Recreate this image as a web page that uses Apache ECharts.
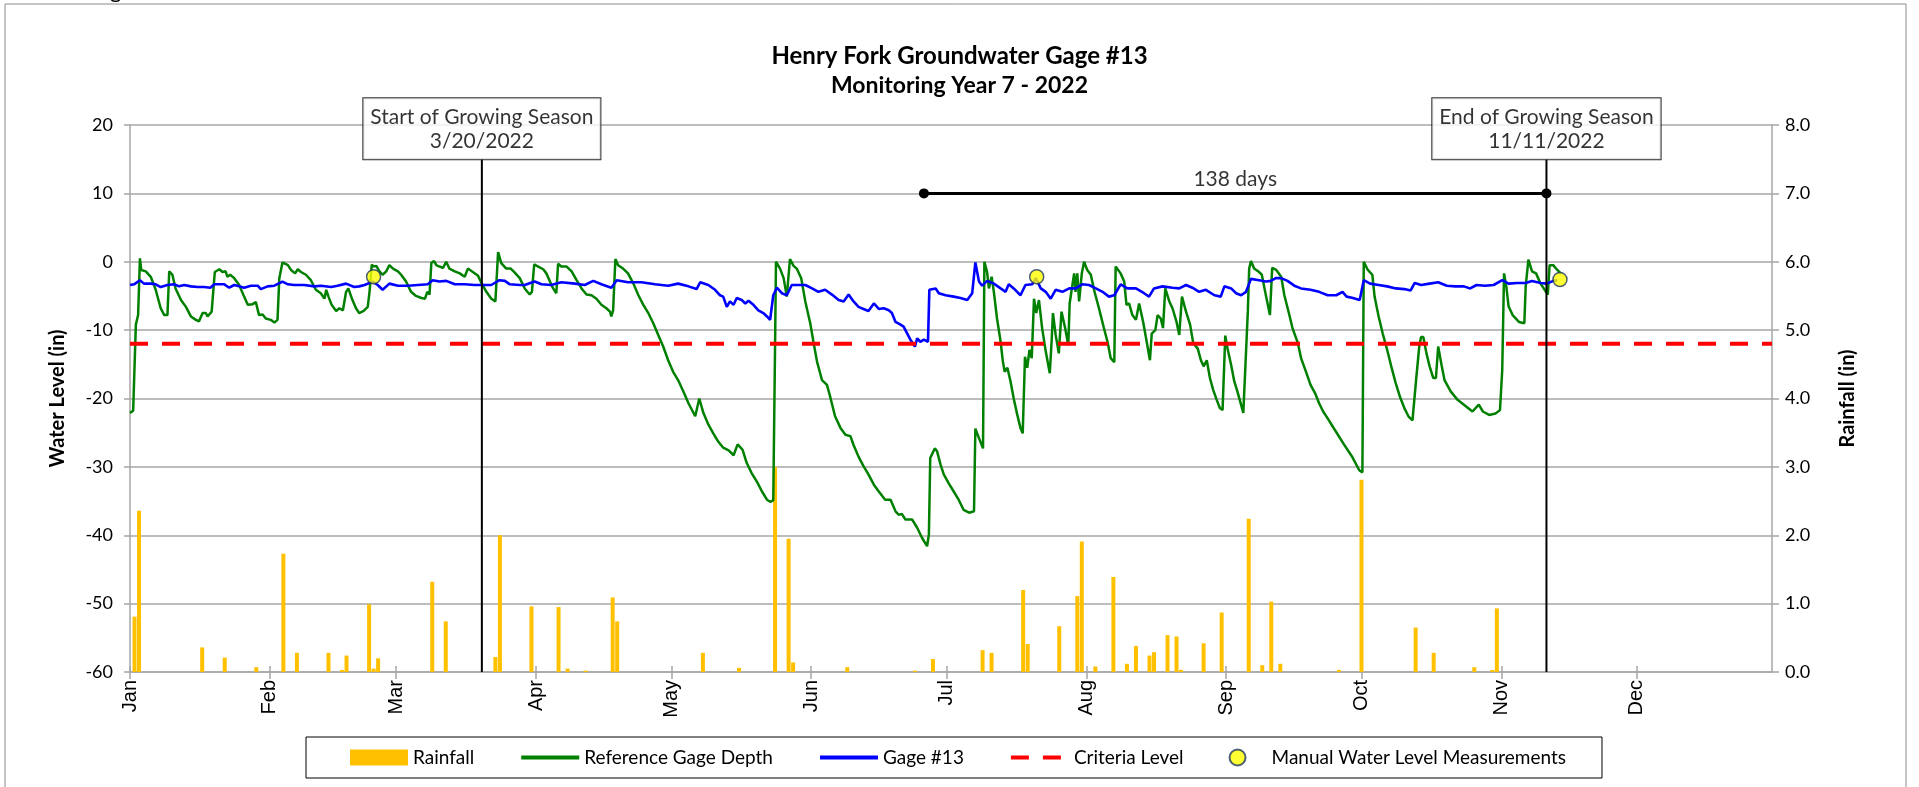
<!DOCTYPE html>
<html>
<head>
<meta charset="utf-8">
<title>Henry Fork Groundwater Gage #13</title>
<script src="https://cdn.jsdelivr.net/npm/echarts@6/dist/echarts.min.js"></script>
<style>
  html, body { margin: 0; padding: 0; background: #ffffff; }
  #chart { width: 1919px; height: 787px; }
</style>
</head>
<body>
<div id="chart"></div>
<script>
// ---- Axis labels ---------------------------------------------------------
// x is day of year 2022 (0 = Jan 1)
const monthLabels = ['Jan', 'Feb', 'Mar', 'Apr', 'May', 'Jun', 'Jul', 'Aug', 'Sep', 'Oct', 'Nov', 'Dec'];
const monthStartDay = [0, 31, 59, 90, 120, 151, 181, 212, 243, 273, 304, 334];

// ---- Daily rainfall (in) ---------------------------------------------------
const rainDay = [1, 2, 16, 21, 28, 34, 37, 44, 47, 48, 53, 54, 55, 67, 70, 81, 82, 89, 95, 97,
  101, 107, 108, 127, 135, 143, 146, 147, 159, 174, 178, 189, 191, 198, 199, 206, 210, 211, 214, 218,
  221, 223, 226, 227, 230, 232, 233, 238, 242, 248, 251, 253, 255, 268, 273, 285, 289, 298, 302, 303];
const rainInches = [0.81, 2.36, 0.36, 0.21, 0.07, 1.73, 0.28, 0.28, 0.03, 0.24, 0.99, 0.05, 0.20, 1.32, 0.74, 0.22, 2.00, 0.96, 0.95, 0.05,
  0.02, 1.09, 0.74, 0.28, 0.06, 3.00, 1.95, 0.14, 0.07, 0.02, 0.19, 0.32, 0.28, 1.20, 0.41, 0.67, 1.11, 1.91, 0.08, 1.39,
  0.12, 0.38, 0.24, 0.29, 0.54, 0.52, 0.03, 0.42, 0.87, 2.24, 0.10, 1.03, 0.12, 0.03, 2.81, 0.65, 0.28, 0.07, 0.03, 0.93];

// ---- Reference gage depth (in): [day, level] ---------------------------------
const refGageDepth = [
  [0.0,-22.1],[0.7,-21.8],[1.3,-9.2],[1.8,-7.8],[2.2,0.5],[2.5,-1.2],[3.5,-1.4],[4.6,-2.2],[5.7,-4.1],[6.8,-6.8],
  [7.6,-7.8],[8.3,-7.8],[8.7,-1.4],[9.4,-1.9],[10.1,-3.9],[11.3,-5.6],[12.4,-6.6],[13.5,-8.0],[14.6,-8.5],[15.3,-8.7],
  [16.1,-7.5],[16.8,-7.5],[17.2,-8.0],[18.1,-7.3],[18.5,-7.3],[18.8,-1.5],[19.8,-1.1],[20.5,-1.5],[21.2,-1.4],[21.6,-2.2],
  [22.2,-1.9],[23.1,-2.4],[24.2,-3.4],[25.3,-5.1],[26.1,-6.3],[27.2,-6.2],[27.9,-5.9],[28.6,-7.8],[29.4,-7.7],[30.1,-8.3],
  [31.2,-8.5],[32.0,-8.9],[32.7,-8.5],[33.1,-2.4],[33.8,-0.1],[35.0,-0.5],[35.7,-1.2],[36.6,-1.7],[37.2,-1.1],[37.9,-1.5],
  [39.0,-1.9],[40.1,-2.7],[41.2,-4.1],[42.3,-4.6],[43.1,-5.4],[43.5,-4.1],[44.0,-5.1],[44.7,-6.3],[45.7,-7.2],[46.4,-6.8],
  [47.2,-7.1],[47.9,-4.4],[48.4,-3.9],[49.2,-5.4],[50.1,-6.8],[50.8,-7.5],[51.8,-7.2],[52.7,-6.6],[53.1,-4.4],[53.6,-0.4],
  [54.0,-0.7],[54.6,-0.6],[55.3,-1.4],[56.0,-1.9],[56.8,-1.4],[57.5,-0.5],[58.3,-1.0],[59.4,-1.4],[60.1,-1.9],[61.2,-2.9],
  [62.3,-4.4],[63.4,-5.0],[64.6,-5.3],[65.4,-5.4],[65.9,-4.4],[66.4,-4.8],[66.8,-0.2],[67.4,0.1],[67.9,-0.5],[68.6,-0.7],
  [69.4,-0.9],[70.1,0.0],[70.8,-1.0],[72.0,-1.4],[73.1,-1.7],[74.2,-2.2],[74.9,-1.0],[76.0,-1.5],[77.1,-2.0],[78.0,-3.2],
  [79.0,-4.4],[80.1,-5.4],[81.0,-5.8],[81.2,-3.4],[81.6,1.4],[82.3,-0.2],[83.4,-1.0],[84.4,-1.0],[85.3,-1.6],[86.4,-2.4],
  [87.5,-3.9],[88.6,-4.8],[89.1,-4.4],[89.6,-0.4],[90.5,-0.7],[91.6,-1.1],[92.3,-1.7],[93.1,-2.9],[93.8,-3.9],[94.5,-4.6],
  [94.9,-0.3],[95.6,-0.7],[96.8,-0.7],[97.9,-1.4],[99.0,-2.7],[100.1,-3.9],[101.2,-4.8],[102.3,-4.9],[103.4,-5.4],[104.5,-6.3],
  [105.6,-6.8],[106.4,-7.3],[106.7,-8.0],[107.1,-7.1],[107.6,0.4],[108.2,-0.5],[109.3,-1.0],[110.4,-1.7],[111.6,-3.2],[112.7,-4.9],
  [113.8,-6.3],[114.9,-7.5],[116.0,-9.0],[117.1,-10.7],[118.2,-12.4],[119.3,-14.4],[120.4,-16.1],[121.5,-17.3],[122.7,-19.0],[123.8,-20.7],
  [125.3,-22.6],[126.2,-20.0],[127.1,-22.1],[128.2,-23.8],[129.3,-25.1],[130.4,-26.3],[131.5,-27.2],[132.7,-27.6],[133.8,-28.3],[134.7,-26.7],
  [135.8,-27.5],[136.7,-29.4],[137.8,-30.9],[139.0,-32.2],[140.1,-33.6],[141.2,-34.8],[141.9,-35.1],[142.6,-34.9],[143.0,-12.2],[143.2,0.0],
  [144.1,-1.0],[144.9,-2.4],[145.6,-5.1],[146.0,-5.1],[146.3,0.4],[147.1,-0.6],[147.8,-1.0],[148.8,-2.4],[149.7,-5.8],[150.8,-9.0],
  [151.5,-11.7],[152.3,-14.6],[153.4,-17.3],[154.5,-18.0],[155.2,-19.7],[156.3,-22.6],[157.5,-24.3],[158.6,-25.3],[159.7,-25.5],[160.4,-26.8],
  [161.5,-28.5],[162.6,-29.9],[163.7,-31.1],[164.9,-32.6],[166.0,-33.6],[167.4,-34.8],[168.6,-34.8],[169.7,-36.5],[170.4,-37.0],[171.1,-36.9],
  [171.9,-37.7],[173.4,-37.7],[174.5,-38.9],[175.6,-40.4],[176.7,-41.6],[177.1,-39.9],[177.4,-28.7],[178.4,-27.3],[178.9,-27.7],[179.7,-29.7],
  [180.4,-31.1],[181.5,-32.4],[182.6,-33.6],[183.7,-34.8],[184.8,-36.3],[186.0,-36.7],[187.1,-36.5],[187.4,-24.4],[188.2,-25.8],[189.1,-27.3],
  [189.4,0.0],[190.0,-1.5],[190.4,-3.9],[191.0,-2.2],[191.5,-4.4],[192.2,-8.3],[193.0,-11.7],[193.5,-14.6],[193.9,-16.1],[194.5,-15.5],
  [195.2,-17.5],[195.9,-20.0],[196.7,-22.4],[197.4,-24.3],[197.9,-25.1],[198.4,-13.9],[198.9,-15.5],[199.4,-12.9],[199.9,-14.1],[200.4,-5.4],
  [200.9,-7.5],[201.5,-5.6],[202.2,-9.7],[203.0,-13.1],[203.9,-16.3],[204.3,-11.7],[204.6,-7.5],[205.2,-10.7],[205.9,-13.4],[206.5,-7.3],
  [207.3,-9.7],[208.0,-12.2],[208.3,-6.1],[208.8,-3.9],[209.3,-1.7],[209.6,-4.4],[210.0,-1.7],[210.4,-5.8],[211.0,-1.7],[211.5,0.0],
  [212.2,-1.2],[213.0,-1.9],[213.7,-4.1],[214.8,-6.8],[215.9,-9.7],[216.7,-11.7],[217.4,-14.1],[218.2,-14.7],[218.5,-0.7],[219.6,-1.7],
  [220.4,-2.9],[220.9,-6.3],[221.5,-6.1],[222.2,-7.8],[223.0,-8.5],[223.7,-6.1],[224.6,-8.8],[225.3,-11.4],[226.1,-14.4],[226.5,-10.5],
  [227.3,-10.0],[227.8,-7.8],[228.5,-8.3],[229.0,-9.7],[229.5,-3.9],[230.4,-5.8],[231.1,-6.8],[232.0,-8.8],[232.6,-10.7],[233.2,-5.1],
  [234.1,-7.3],[235.0,-9.2],[235.7,-11.9],[236.7,-12.7],[237.4,-14.4],[238.0,-15.3],[238.7,-14.4],[239.4,-17.0],[240.1,-18.7],[240.9,-20.2],
  [241.6,-21.4],[242.2,-21.7],[242.8,-10.8],[243.3,-12.7],[244.1,-15.1],[244.8,-17.5],[245.5,-19.0],[246.3,-20.9],[246.8,-22.1],[247.2,-21.9],
  [247.8,-7.3],[248.1,-1.0],[248.5,0.1],[249.2,-1.0],[250.3,-1.5],[250.9,-1.9],[251.8,-4.9],[252.7,-7.8],[253.2,-0.9],[254.1,-1.2],
  [255.2,-2.2],[255.9,-4.9],[256.9,-7.5],[257.7,-9.7],[258.9,-11.9],[259.6,-14.1],[260.8,-16.3],[261.7,-18.0],[262.7,-19.2],[263.6,-20.7],
  [264.5,-21.9],[265.5,-22.9],[267.0,-24.5],[269.0,-26.6],[271.0,-28.6],[272.5,-30.5],[273.2,-30.8],[273.5,0.0],[274.4,-1.2],[275.4,-1.9],
  [275.9,-5.1],[276.8,-8.0],[277.7,-10.5],[278.7,-12.9],[279.6,-15.3],[280.6,-17.8],[281.5,-19.7],[282.5,-21.4],[283.4,-22.6],[284.3,-23.2],
  [285.1,-17.3],[285.8,-12.4],[286.2,-11.0],[286.7,-11.0],[287.4,-13.4],[288.1,-15.3],[288.9,-17.0],[289.5,-17.0],[290.0,-12.4],[290.8,-15.3],
  [291.4,-17.3],[292.8,-19.0],[294.3,-20.2],[295.7,-20.9],[297.6,-21.9],[299.0,-20.9],[299.9,-21.9],[301.3,-22.4],[302.7,-22.2],[303.7,-21.7],
  [304.2,-15.8],[304.6,-1.7],[305.1,-3.6],[305.6,-6.5],[306.5,-7.8],[307.9,-8.8],[309.1,-9.0],[309.4,-3.6],[310.0,0.3],[310.8,-1.4],
  [311.7,-1.7],[312.7,-3.2],[313.6,-4.1],[314.3,-4.8],[314.7,-0.5],[315.5,-0.5],[316.4,-1.2],[317.2,-1.7]
];

// ---- Gage #13 water level (in): [day, level] ---------------------------------
const gage13Depth = [
  [0.0,-3.4],[0.9,-3.3],[2.2,-2.7],[3.1,-3.2],[4.6,-3.2],[5.7,-3.3],[6.8,-3.7],[8.3,-3.4],[9.8,-3.3],[10.9,-3.6],
  [12.0,-3.4],[13.5,-3.6],[15.0,-3.7],[16.4,-3.7],[17.8,-3.8],[18.7,-3.3],[20.9,-3.3],[22.0,-3.8],[23.1,-3.4],[24.2,-3.6],
  [25.3,-3.8],[26.8,-3.5],[28.3,-3.5],[29.0,-4.0],[30.5,-3.6],[32.0,-3.5],[33.8,-2.9],[35.0,-3.3],[36.4,-3.4],[38.6,-3.4],
  [40.9,-3.6],[42.3,-3.5],[44.6,-3.7],[46.0,-3.5],[47.9,-3.2],[49.7,-3.7],[50.8,-3.6],[52.0,-3.4],[53.8,-2.9],[54.9,-3.4],
  [56.0,-4.1],[57.5,-3.2],[59.4,-3.5],[61.6,-3.5],[63.8,-3.4],[66.0,-3.3],[67.1,-2.7],[68.6,-2.9],[70.1,-2.8],[72.0,-3.3],
  [74.2,-3.3],[76.4,-3.4],[78.2,-3.4],[80.1,-3.4],[81.9,-2.7],[83.1,-2.8],[84.2,-3.3],[86.4,-3.4],[87.5,-3.4],[89.7,-2.9],
  [91.2,-3.3],[93.4,-3.4],[95.6,-3.0],[98.6,-3.2],[100.8,-3.4],[102.7,-2.8],[104.5,-3.3],[106.7,-3.8],[107.9,-2.7],[110.4,-3.0],
  [113.4,-3.0],[116.4,-3.3],[119.3,-3.5],[121.5,-3.2],[123.8,-3.6],[125.6,-4.0],[126.4,-3.0],[128.2,-3.4],[129.7,-4.1],[130.8,-4.9],
  [131.5,-5.1],[132.3,-6.6],[133.0,-5.8],[133.8,-6.3],[134.5,-5.3],[135.6,-5.6],[136.4,-6.1],[137.1,-5.7],[138.2,-6.3],[139.3,-7.1],
  [140.4,-7.5],[141.2,-8.0],[141.9,-8.5],[142.6,-4.9],[143.4,-3.8],[144.5,-4.6],[145.6,-4.9],[146.7,-3.4],[148.2,-3.4],[149.7,-3.4],
  [151.2,-3.9],[152.6,-4.4],[154.1,-4.1],[155.6,-4.8],[157.1,-5.6],[158.2,-5.8],[159.3,-4.8],[160.4,-5.8],[161.5,-6.6],[162.6,-6.9],
  [163.7,-7.2],[164.9,-6.1],[166.0,-6.9],[167.1,-6.8],[168.2,-7.1],[168.9,-7.5],[169.7,-8.8],[170.8,-9.2],[171.5,-9.5],[172.3,-10.5],
  [173.0,-11.4],[174.0,-12.4],[174.5,-11.2],[175.2,-11.7],[176.0,-11.4],[176.9,-11.7],[177.2,-4.1],[178.6,-3.9],[179.3,-4.6],[180.8,-4.9],
  [182.6,-5.1],[184.1,-5.3],[185.6,-5.6],[186.7,-4.6],[187.4,-0.1],[188.2,-2.9],[188.9,-3.5],[190.0,-2.8],[191.5,-3.2],[193.0,-3.9],
  [194.1,-4.4],[194.8,-3.3],[195.9,-3.9],[197.4,-4.9],[198.5,-3.4],[200.0,-3.3],[200.8,-2.4],[201.9,-3.9],[203.0,-4.4],[204.1,-5.4],
  [205.2,-4.1],[206.7,-4.4],[208.2,-3.9],[209.6,-3.9],[211.1,-3.3],[212.6,-3.4],[214.1,-3.9],[215.6,-4.4],[217.0,-5.1],[218.2,-4.9],
  [219.6,-3.3],[221.1,-3.9],[223.0,-3.9],[224.8,-4.6],[225.9,-5.1],[227.0,-3.9],[228.9,-3.6],[231.1,-3.8],[232.6,-3.9],[234.1,-3.4],
  [235.5,-3.8],[237.0,-4.4],[238.5,-4.1],[240.4,-4.9],[241.8,-5.1],[242.6,-3.6],[244.1,-3.9],[245.2,-4.6],[246.3,-4.9],[247.4,-4.4],
  [248.5,-2.5],[250.3,-2.7],[251.8,-2.9],[252.9,-2.8],[254.0,-2.4],[255.2,-2.4],[256.6,-2.8],[258.1,-3.5],[259.6,-3.9],[261.7,-4.1],
  [263.6,-4.4],[265.5,-4.9],[267.4,-4.9],[268.8,-4.4],[269.7,-5.1],[271.1,-5.3],[272.6,-5.6],[273.5,-2.7],[274.9,-3.2],[276.8,-3.4],
  [278.7,-3.6],[280.6,-3.9],[282.5,-4.0],[283.9,-4.2],[284.8,-3.1],[286.2,-3.4],[288.1,-3.2],[290.0,-3.0],[291.9,-3.5],[293.8,-3.6],
  [295.7,-3.6],[297.1,-3.9],[298.5,-3.4],[300.4,-3.5],[302.3,-3.4],[304.2,-2.7],[305.6,-3.2],[307.5,-3.1],[309.4,-3.1],[310.8,-2.8],
  [312.7,-3.1],[314.1,-3.2],[315.5,-2.8],[316.4,-2.7]
];

// ---- Manual water level measurements -------------------------------------
const manualDay = [54, 201, 317];
const manualLevel = [-2.2, -2.2, -2.6];

// ---- Reference lines --------------------------------------------------------
const criteriaLevel = -12;
const seasonStartDay = 78;   // 3/20/2022
const seasonEndDay = 314;    // 11/11/2022
const seasonStartText = 'Start of Growing Season\n3/20/2022';
const seasonEndText = 'End of Growing Season\n11/11/2022';
const runStartDay = 176;     // start of longest run above criteria
const runLevel = 10;
const boxLevel = 15;

const AXIS_MIN = 0, AXIS_MAX = 364;
const LEFT_MIN = -60, LEFT_MAX = 20;

const zip = (xs, ys) => xs.map((x, i) => [x, ys[i]]);
const FONT = 'Lato, "Open Sans", sans-serif';
const GRID_GRAY = '#A6A6A6';

const chart = echarts.init(document.getElementById('chart'), null, { renderer: 'canvas' });

const seasonBox = {
  show: true,
  position: 'top',
  distance: 0,
  color: '#000',
  fontFamily: FONT,
  fontSize: 21,
  lineHeight: 24,
  align: 'center',
  backgroundColor: '#ffffff',
  borderColor: '#000000',
  borderWidth: 1,
  padding: [7, 7, 6, 7]
};

// legend line icons: draw only the stroke, no marker
const lineOnly = (w) => ({ itemStyle: { opacity: 0 }, lineStyle: { width: w } });

const option = {
  animation: false,
  backgroundColor: '#ffffff',
  textStyle: { fontFamily: FONT, color: '#000' },
  title: {
    text: 'Henry Fork Groundwater Gage #13',
    subtext: 'Monitoring Year 7 - 2022',
    left: 'center',
    top: 39,
    itemGap: 6,
    textStyle: { fontFamily: FONT, fontSize: 24, fontWeight: 'bold', color: '#000' },
    subtextStyle: { fontFamily: FONT, fontSize: 23, fontWeight: 'bold', color: '#000' }
  },
  grid: { left: 130, right: 147, top: 125, bottom: 115 },
  legend: {
    left: 306,
    top: 737,
    orient: 'horizontal',
    borderColor: '#000',
    borderWidth: 1,
    padding: [11, 36, 11, 44],
    itemGap: 45,
    itemWidth: 58,
    itemHeight: 16,
    textStyle: { fontFamily: FONT, fontSize: 19, color: '#000' },
    data: [
      { name: 'Rainfall', icon: 'rect' },
      Object.assign({ name: 'Reference Gage Depth' }, lineOnly(4)),
      Object.assign({ name: 'Gage #13' }, lineOnly(4)),
      Object.assign({ name: 'Criteria Level' }, lineOnly(4)),
      { name: 'Manual Water Level Measurements', icon: 'circle' }
    ]
  },
  xAxis: [
    {
      type: 'value', min: AXIS_MIN, max: AXIS_MAX, position: 'bottom',
      axisLine: { show: true, onZero: false, lineStyle: { color: GRID_GRAY, width: 1.5 } },
      axisTick: { show: true, customValues: monthStartDay, length: 7, lineStyle: { color: GRID_GRAY, width: 1.5 } },
      axisLabel: {
        customValues: monthStartDay,
        rotate: 90,
        margin: 8,
        fontFamily: '"Liberation Sans", Arial, sans-serif',
        fontSize: 20,
        color: '#000',
        formatter: v => monthLabels[monthStartDay.indexOf(v)]
      },
      splitLine: { show: false }
    },
    {
      type: 'value', min: AXIS_MIN, max: AXIS_MAX, position: 'bottom',
      axisLine: { show: false, onZero: false },
      axisTick: { show: true, inside: true, customValues: monthStartDay, length: 6, lineStyle: { color: GRID_GRAY, width: 1.5 } },
      axisLabel: { show: false },
      splitLine: { show: false }
    }
  ],
  yAxis: [
    {
      type: 'value', min: LEFT_MIN, max: LEFT_MAX, interval: 10, position: 'left',
      name: 'Water Level (in)', nameLocation: 'middle', nameRotate: 90, nameGap: 62,
      nameTextStyle: { fontFamily: FONT, fontSize: 20, fontWeight: 'bold', color: '#000' },
      axisLine: { show: true, onZero: false, lineStyle: { color: GRID_GRAY, width: 1.5 } },
      axisTick: { show: true, length: 6, lineStyle: { color: GRID_GRAY, width: 1.5 } },
      axisLabel: { fontFamily: FONT, fontSize: 18, color: '#000', margin: 17 },
      splitLine: { show: true, lineStyle: { color: GRID_GRAY, width: 1.5 } }
    },
    {
      type: 'value', min: 0, max: 8, interval: 1, position: 'right',
      name: 'Rainfall (in)', nameLocation: 'middle', nameRotate: 90, nameGap: 66,
      nameTextStyle: { fontFamily: FONT, fontSize: 20, fontWeight: 'bold', color: '#000' },
      axisLine: { show: true, onZero: false, lineStyle: { color: GRID_GRAY, width: 1.5 } },
      axisTick: { show: true, length: 7, lineStyle: { color: GRID_GRAY, width: 1.5 } },
      axisLabel: { fontFamily: FONT, fontSize: 18, color: '#000', margin: 13, formatter: v => v.toFixed(1) },
      splitLine: { show: false }
    }
  ],
  series: [
    {
      name: 'Rainfall', type: 'bar', xAxisIndex: 0, yAxisIndex: 1,
      barWidth: 4, barGap: '-100%',
      itemStyle: { color: '#FFC000' },
      data: zip(rainDay, rainInches)
    },
    {
      name: 'Reference Gage Depth', type: 'line', xAxisIndex: 0, yAxisIndex: 0,
      symbol: 'none', color: '#008000',
      lineStyle: { color: '#008000', width: 2.5 },
      data: refGageDepth
    },
    {
      name: 'Gage #13', type: 'line', xAxisIndex: 0, yAxisIndex: 0,
      symbol: 'none', color: '#0000FF',
      lineStyle: { color: '#0000FF', width: 2.6 },
      data: gage13Depth
    },
    {
      name: 'Criteria Level', type: 'line', xAxisIndex: 0, yAxisIndex: 0,
      symbol: 'none', color: '#FF0000',
      lineStyle: { color: '#FF0000', width: 4, type: [18, 14] },
      data: [[AXIS_MIN, criteriaLevel], [AXIS_MAX, criteriaLevel]]
    },
    {
      name: 'season-start', type: 'line', xAxisIndex: 0, yAxisIndex: 0,
      symbol: 'none', silent: true, z: 4,
      lineStyle: { color: '#000', width: 2 },
      data: [[seasonStartDay, LEFT_MIN], [seasonStartDay, boxLevel]]
    },
    {
      name: 'season-end', type: 'line', xAxisIndex: 0, yAxisIndex: 0,
      symbol: 'none', silent: true, z: 4,
      lineStyle: { color: '#000', width: 2 },
      data: [[seasonEndDay, LEFT_MIN], [seasonEndDay, boxLevel]]
    },
    {
      name: 'season-labels', type: 'scatter', xAxisIndex: 0, yAxisIndex: 0,
      symbolSize: 0, silent: true, z: 6,
      label: seasonBox,
      data: [
        { value: [seasonStartDay, boxLevel], label: { formatter: seasonStartText } },
        { value: [seasonEndDay, boxLevel], label: { formatter: seasonEndText } }
      ]
    },
    {
      name: 'run-span', type: 'line', xAxisIndex: 0, yAxisIndex: 0,
      symbol: 'circle', symbolSize: 10, silent: true, z: 5,
      itemStyle: { color: '#000' },
      lineStyle: { color: '#000', width: 3 },
      data: [[runStartDay, runLevel], [seasonEndDay, runLevel]]
    },
    {
      name: 'run-span-label', type: 'scatter', xAxisIndex: 0, yAxisIndex: 0,
      symbolSize: 0, silent: true, z: 6,
      label: {
        show: true, position: 'top', distance: 4,
        fontFamily: FONT, fontSize: 21, color: '#000',
        formatter: () => (seasonEndDay - runStartDay) + ' days'
      },
      data: [[(runStartDay + seasonEndDay) / 2, runLevel]]
    },
    {
      name: 'Manual Water Level Measurements', type: 'scatter', xAxisIndex: 0, yAxisIndex: 0,
      symbol: 'circle', symbolSize: 14, z: 7,
      itemStyle: { color: '#FFFF00', borderColor: '#1F3864', borderWidth: 1.5 },
      data: zip(manualDay, manualLevel)
    }
  ],
  graphic: [
    {
      type: 'rect', silent: true, z: -10,
      shape: { x: 5, y: 4, width: 1901, height: 820 },
      style: { fill: 'none', stroke: '#8C8C8C', lineWidth: 1 }
    },
    {
      type: 'text', silent: true, left: 110, top: -20,
      style: { text: 'g', font: '22px ' + FONT, fill: '#000' }
    }
  ]
};

chart.setOption(option);
</script>
</body>
</html>
